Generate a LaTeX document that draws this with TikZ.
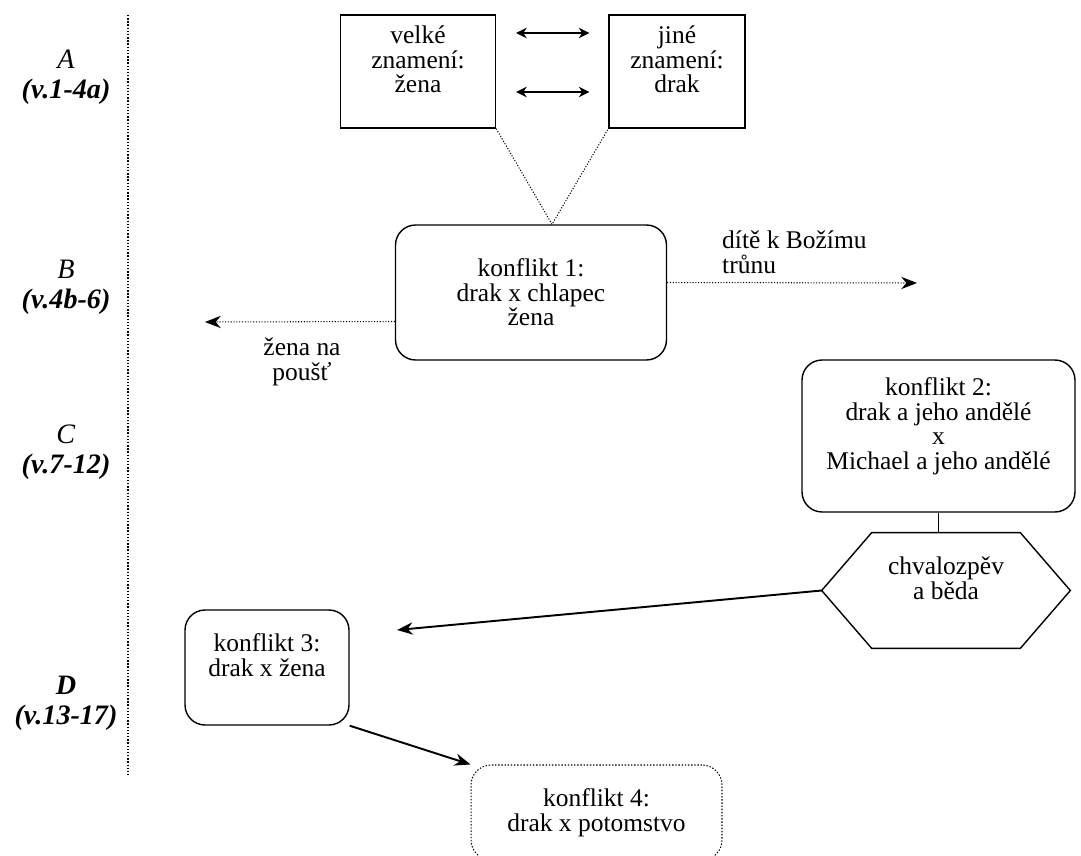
\documentclass[tikz,border=0pt]{standalone}
\usepackage{fontspec}
\setmainfont{Liberation Serif}
\usetikzlibrary{arrows.meta}

\begin{document}
\begin{tikzpicture}[x=0.02cm, y=-0.02cm,
  every node/.style={font=\fontsize{14.5}{14}\selectfont, align=center},
  part/.style={font=\fontsize{16}{17}\selectfont},
  sign/.style={draw, line width=0.8pt, minimum height=2.26cm},
  conf/.style={draw, line width=0.8pt, rounded corners=0.4cm},
  dots/.style={densely dotted, line width=0.6pt},
  tip/.style={-{Stealth[length=9pt, width=7pt]}},
  dbl/.style={{Stealth[length=6pt, width=6pt]}-{Stealth[length=6pt, width=6pt]}, line width=0.6pt}]
\useasboundingbox (0,0) rectangle (1081,855);

\draw[densely dotted, line width=0.8pt] (128,15) -- (128,775);

\node[part] (A) at (66,77) {\textit{A}\\\textbf{\textit{(v.1-4a)}}};
\node[part] (B) at (66,287.5) {\textit{B}\\\textbf{\textit{(v.4b-6)}}};
\node[part] (C) at (66,452.5) {\textit{C}\\\textbf{\textit{(v.7-12)}}};
\node[part] (D) at (66,703) {\textbf{\textit{D}}\\\textbf{\textit{(v.13-17)}}};

\node[sign, minimum width=3.1cm] (velke) at (418,71.5) {velké\\znamení:\\žena\\\mbox{}};
\node[sign, minimum width=2.72cm] (jine) at (677,71.5) {jiné\\znamení:\\drak\\\mbox{}};
\node[conf, minimum width=5.42cm, minimum height=2.7cm] (k1) at (531,292.5) {konflikt 1:\\drak x chlapec\\žena};
\node[conf, minimum width=5.46cm, minimum height=3.04cm] (k2) at (938.5,436) {konflikt 2:\\drak a jeho andělé\\x\\Michael a jeho andělé\\\mbox{}};
\node[minimum width=4.96cm, minimum height=2.3cm] (hex) at (946,590.5) {chvalozpěv\\a běda\\\mbox{}};
\node[conf, minimum width=3.28cm, minimum height=2.3cm] (k3) at (267,667.5) {konflikt 3:\\drak x žena\\\mbox{}};
\node[conf, dots, minimum width=5.02cm, minimum height=1.9cm] (k4) at (596.5,812.5) {konflikt 4:\\drak x potomstvo};

\draw[line width=0.8pt] ([xshift=1cm]hex.north west) -- ([xshift=-1cm]hex.north east) -- (hex.east)
  -- ([xshift=-1cm]hex.south east) -- ([xshift=1cm]hex.south west) -- (hex.west) -- cycle;

\draw[dbl, shorten <=0.4cm, shorten >=0.38cm] ([yshift=0.77cm]velke.east) -- ([yshift=0.77cm]jine.west);
\draw[dbl, shorten <=0.4cm, shorten >=0.38cm] ([yshift=-0.41cm]velke.east) -- ([yshift=-0.41cm]jine.west);
\draw[dots] (velke.south east) -- ([xshift=0.42cm]k1.north) -- (jine.south west);

\coordinate (throne) at (917,283);
\coordinate (desert) at (205,322);
\draw[dots, tip] ([yshift=0.2cm]k1.east) -- (throne);
\draw[dots, tip] ([yshift=-0.58cm]k1.west) -- (desert);
\node[anchor=west, align=left] (thrlbl) at (716,252) {dítě k Božímu\\trůnu};
\node (deslbl) at (302,362) {žena na\\poušť};

\draw[line width=0.8pt] (k2.south) -- (k2.south |- hex.north);
\coordinate (k3tip) at (397,630);
\draw[line width=1.1pt, tip] (hex.west) -- (k3tip);
\draw[line width=1.1pt, tip] (k3.south east) -- (k4.north west);
\end{tikzpicture}
\end{document}
